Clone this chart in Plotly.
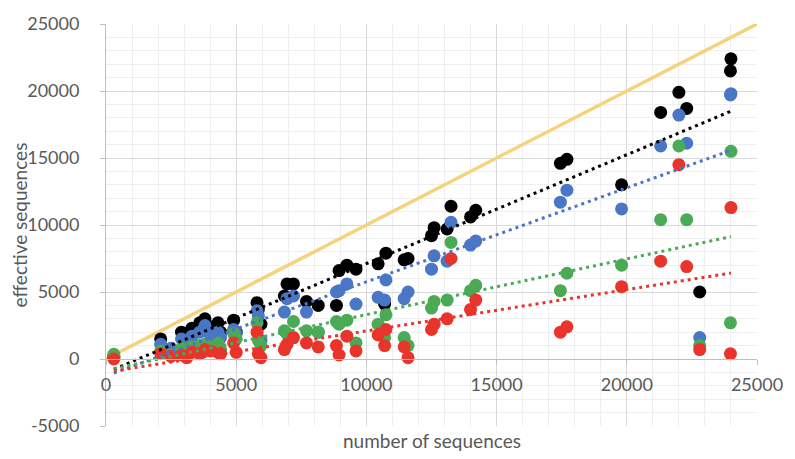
import numpy as np
import plotly.graph_objects as go

# number of sequences per sample
num_seq = [300, 2100, 2500, 2900, 3100, 3300, 3600, 3800, 4000, 4300, 4400, 4900, 5000,
           5800, 5850, 5950, 6850, 6950, 7200, 7700, 8150, 8850, 8950, 9250, 9600,
           10450, 10700, 10750, 11450, 11600, 12500, 12600, 13100, 13250, 14000, 14200,
           17450, 17700, 19800, 21300, 22000, 22300, 22800, 24000, 23980]

eff_black = [150, 1500, 700, 2000, 1900, 2300, 2700, 3000, 2400, 2700, 2000, 2900, 2000,
             4200, 3700, 2600, 4700, 5600, 5600, 4300, 4000, 4000, 6600, 7000, 6700,
             7100, 4100, 7900, 7400, 7500, 9200, 9800, 9700, 11400, 10600, 11100,
             14600, 14900, 13000, 18400, 19900, 18700, 5000, 22400, 21500]

eff_blue = [100, 1100, 800, 1500, 1200, 1700, 2000, 2500, 1800, 2000, 1600, 2200, 1900,
            3600, 3200, 1400, 3500, 4500, 4700, 3500, 2000, 5000, 5100, 5600, 4100,
            4600, 4400, 5900, 4500, 5000, 6700, 7700, 7300, 10200, 8500, 8800,
            11700, 12600, 11200, 15900, 18200, 16100, 1600, 19800, 19700]

eff_green = [350, 600, 300, 800, 600, 900, 1000, 1100, 900, 1200, 700, 1900, 1500,
             2700, 1400, 1000, 2100, 1900, 2800, 2100, 2000, 2800, 2600, 2900, 1200,
             2600, 1600, 3300, 1600, 1000, 3800, 4300, 4400, 8700, 5100, 5500,
             5100, 6400, 7000, 10400, 15900, 10400, 1000, 15500, 2700]

eff_red = [0, 400, 200, 300, 100, 500, 400, 700, 600, 500, 400, 1200, 500,
           2000, 400, 100, 700, 1100, 1600, 1200, 900, 1000, 300, 1700, 600,
           1800, 1000, 2200, 900, 100, 2200, 2600, 3000, 7500, 3700, 4400,
           2000, 2400, 5400, 7300, 14500, 6900, 700, 11300, 400]

identity_x = [0, 25000]
identity_y = [0, 25000]

x_ticks = [0, 5000, 10000, 15000, 20000, 25000]
y_ticks = [-5000, 0, 5000, 10000, 15000, 20000, 25000]
x_tick_labels = ["0", "5000", "10000", "15000", "20000", "25000"]
y_tick_labels = ["-5000", "0", "5000", "10000", "15000", "20000", "25000"]

series = [
    ("black", eff_black, "#000000"),
    ("blue", eff_blue, "#4A76C6"),
    ("green", eff_green, "#4BAA55"),
    ("red", eff_red, "#E8342B"),
]

fig = go.Figure()

fig.add_trace(go.Scatter(x=identity_x, y=identity_y, mode="lines",
                         line=dict(color="#F5D27C", width=3.5), hoverinfo="skip"))

xs = np.array(num_seq, dtype=float)
for name, ys, col in series:
    fig.add_trace(go.Scatter(x=num_seq, y=ys, mode="markers", name=name,
                             marker=dict(color=col, size=13, line=dict(width=0))))

for name, ys, col in series:
    m, b = np.polyfit(xs, np.array(ys, dtype=float), 1)
    tx = np.array([xs.min(), xs.max()])
    fig.add_trace(go.Scatter(x=tx, y=m * tx + b, mode="lines",
                             line=dict(color=col, width=3, dash="3px,4px"),
                             hoverinfo="skip"))

font_col = "#595959"
fnt = "Lato, Carlito, 'Open Sans', sans-serif"

fig.update_layout(
    width=795, height=459,
    margin=dict(l=106, r=29, t=12, b=33),
    paper_bgcolor="white", plot_bgcolor="white",
    showlegend=False,
    font=dict(family=fnt, size=18, color=font_col),
    xaxis=dict(range=[0, 25000], tickvals=x_ticks, ticktext=x_tick_labels,
               showgrid=True, gridcolor="#D9D9D9", gridwidth=1,
               minor=dict(dtick=1000, tick0=0, showgrid=True, gridcolor="#EFEFEF", gridwidth=1),
               zeroline=False, showline=True, linecolor="#BFBFBF", linewidth=1,
               ticks="outside", ticklen=5, tickcolor="#BFBFBF",
               anchor="free", position=1/6, ticklabelstandoff=4,
               tickfont=dict(family=fnt, size=18, color=font_col)),
    yaxis=dict(range=[-5000, 25000], tickvals=y_ticks, ticktext=y_tick_labels,
               showgrid=True, gridcolor="#D9D9D9", gridwidth=1,
               minor=dict(dtick=1000, tick0=0, showgrid=True, gridcolor="#EFEFEF", gridwidth=1),
               zeroline=False, showline=True, linecolor="#BFBFBF", linewidth=1,
               ticks="outside", ticklen=5, tickcolor="#BFBFBF",
               ticklabelstandoff=17,
               tickfont=dict(family=fnt, size=18, color=font_col)),
    annotations=[
        dict(text="number of sequences", xref="paper", yref="paper",
             x=0.5, y=-0.036, showarrow=False, xanchor="center", yanchor="middle",
             font=dict(family=fnt, size=19, color=font_col)),
        dict(text="effective sequences", xref="paper", yref="paper",
             x=-0.133, y=0.5, showarrow=False, textangle=-90,
             xanchor="center", yanchor="middle",
             font=dict(family=fnt, size=19, color=font_col)),
    ],
)

fig.write_html("out.html",
               config={"displayModeBar": False},
               post_script="document.body.style.margin='0px';document.body.style.overflow='hidden';")
